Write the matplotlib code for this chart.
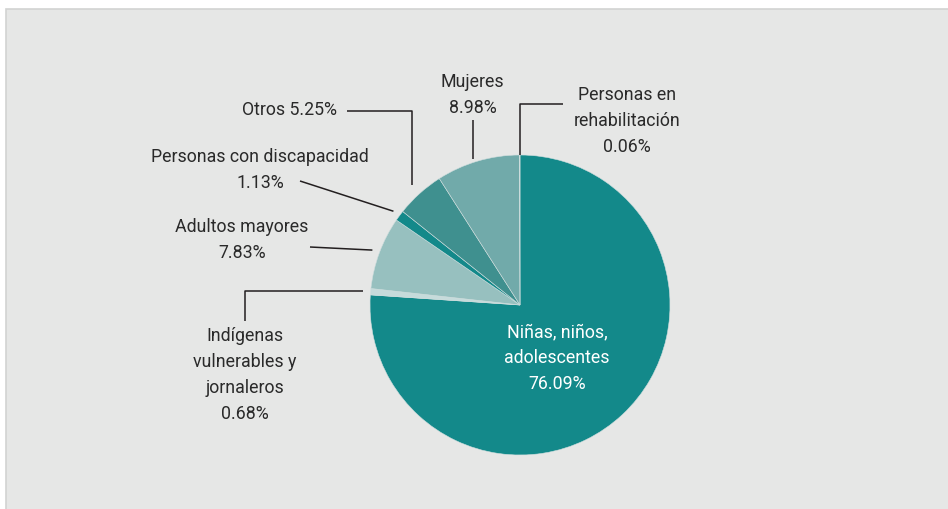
import numpy as np
import matplotlib
matplotlib.use("Agg")
import matplotlib.pyplot as plt
from matplotlib.patches import Rectangle

plt.rcParams['font.family'] = ['Roboto', 'DejaVu Sans']

# Data (clockwise from 12 o'clock)
labels = ["Niñas, niños,\nadolescentes", "Indígenas\nvulnerables y\njornaleros", "Adultos mayores",
          "Personas con discapacidad", "Otros", "Mujeres", "Personas en\nrehabilitación"]
shares = [76.09, 0.68, 7.83, 1.13, 5.25, 8.98, 0.06]
colors = ["#13898a", "#c6dbdb", "#97c0bf", "#13898a", "#3f908f", "#71aaaa", "#c6dbdb"]

W, H = 948, 509
fig = plt.figure(figsize=(W / 100, H / 100), dpi=100)
ax = fig.add_axes([0, 0, 1, 1])

# panel background
ax.add_patch(Rectangle((6, -5), W, H - 9 + 5, facecolor="#e6e7e6", edgecolor="#d2d3d2", lw=1.2, zorder=0))

cx, cy, R = 520, H - 305, 150
wedges, _ = ax.pie(shares, colors=colors, startangle=90, counterclock=False, center=(cx, cy), radius=R,
                   wedgeprops=dict(edgecolor="#cfdede", linewidth=0.4), frame=True)
ax.set_xlim(0, W)
ax.set_ylim(0, H)
ax.set_aspect("equal")
ax.axis("off")

txt = "#2a2a2a"
fs = 12.8
ls = 1.58


def anchor(i, k=1.05, frac=0.5):
    w = wedges[i]
    a = np.deg2rad(w.theta1 + frac * (w.theta2 - w.theta1))
    return cx + k * R * np.cos(a), cy + k * R * np.sin(a)


def Y(y):
    return H - y


def line(xs, ys):
    ax.plot(xs, ys, color="#231f20", lw=1.1, solid_capstyle="butt", zorder=3)


# Niñas
ax.text(557, Y(358), f"{labels[0]}\n{shares[0]:.2f}%", color="white", fontsize=fs, ha="center", va="center",
        linespacing=ls)

# Indígenas
ax0, ay0 = anchor(1)
line([245, 245, ax0], [Y(321), ay0, ay0])
ax.text(245, Y(375), f"{labels[1]}\n{shares[1]:.2f}%", color=txt, fontsize=fs, ha="center", va="center",
        linespacing=ls)

# Adultos mayores
ax0, ay0 = anchor(2)
line([310, ax0], [Y(247), ay0])
ax.text(242, Y(240), f"{labels[2]}\n{shares[2]:.2f}%", color=txt, fontsize=fs, ha="center", va="center",
        linespacing=ls)

# Discapacidad
ax0, ay0 = anchor(3)
line([300, ax0], [Y(181), ay0])
ax.text(260, Y(170), f"{labels[3]}\n{shares[3]:.2f}%", color=txt, fontsize=fs, ha="center", va="center",
        linespacing=ls)

# Otros
ax0, ay0 = anchor(4, 1.08)
line([347, ax0, ax0], [Y(111), Y(111), ay0])
ax.text(337, Y(110), f"{labels[4]} {shares[4]:.2f}%", color=txt, fontsize=fs, ha="right", va="center")

# Mujeres
ax0, ay0 = anchor(5, 1.02, 0.55)
line([ax0, ax0], [Y(120), ay0])
ax.text(ax0, Y(95), f"{labels[5]}\n{shares[5]:.2f}%", color=txt, fontsize=fs, ha="center", va="center",
        linespacing=ls)

# Rehabilitación
ax0, ay0 = anchor(6, 1.0)
line([563, ax0, ax0], [Y(104), Y(104), ay0])
ax.text(627, Y(121), f"{labels[6]}\n{shares[6]:.2f}%", color=txt, fontsize=fs, ha="center", va="center",
        linespacing=ls)

fig.savefig("out.png", dpi=100, facecolor="white")
